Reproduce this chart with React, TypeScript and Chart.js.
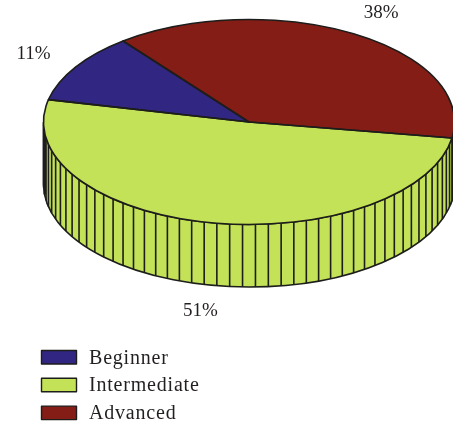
import React, { useEffect, useRef } from "react";
import { Chart, registerables } from "chart.js";

Chart.register(...registerables);

// Legend order
const categories = ["Beginner", "Intermediate", "Advanced"];
const shares = [11, 51, 38];
const colors = ["#312783", "#C3E257", "#841D16"];
// Clockwise order of the wedges around the disc, as indices into the lists above
const wedgeOrder = [0, 2, 1];

const OUTLINE = "#1d1d1b";
const TEXT = "#231f20";
const FONT = '"Liberation Serif", serif';

const RADIUS_X = 205.5;
const RADIUS_Y = 102.5;
const DEPTH = 62.5;
const LABEL_REACH = 1.25;
const LINE_WIDTH = 1.6;
const TAU = Math.PI * 2;

// Parts of a wedge that lie on the visible front wall (canvas angles 0..PI)
function visibleSpans(start: number, end: number): [number, number][] {
  const s = ((start % TAU) + TAU) % TAU;
  const e = s + (end - start);
  const spans: [number, number][] = [];
  for (const offset of [0, TAU]) {
    const a = Math.max(s, offset);
    const b = Math.min(e, offset + Math.PI);
    if (b > a) spans.push([a, b]);
  }
  return spans;
}

const discPlugin = {
  id: "disc3d",
  // Front wall, extruded below the rim, with one facet line per percentage point
  beforeDatasetsDraw(chart: any) {
    const { ctx } = chart;
    const arcs = chart.getDatasetMeta(0).data;
    ctx.save();
    ctx.strokeStyle = OUTLINE;
    ctx.lineWidth = LINE_WIDTH;
    arcs.forEach((arc: any, i: number) => {
      const cx = arc.x;
      const cy = arc.y;
      const value = chart.data.datasets[0].data[i];
      const step = (arc.endAngle - arc.startAngle) / value;
      for (const [a, b] of visibleSpans(arc.startAngle, arc.endAngle)) {
        ctx.beginPath();
        ctx.ellipse(cx, cy, RADIUS_X, RADIUS_Y, 0, a, b);
        ctx.ellipse(cx, cy + DEPTH, RADIUS_X, RADIUS_Y, 0, b, a, true);
        ctx.closePath();
        ctx.fillStyle = arc.options.backgroundColor;
        ctx.fill();
        ctx.stroke();
      }
      ctx.beginPath();
      for (let k = 1; k < value; k++) {
        const t = arc.startAngle + k * step;
        const n = ((t % TAU) + TAU) % TAU;
        if (n > Math.PI) continue;
        const x = cx + RADIUS_X * Math.cos(n);
        const y = cy + RADIUS_Y * Math.sin(n);
        ctx.moveTo(x, y);
        ctx.lineTo(x, y + DEPTH);
      }
      ctx.stroke();
    });
    ctx.restore();
  },
  // Flatten the round wedges into the tilted top face
  beforeDatasetDraw(chart: any) {
    const { ctx } = chart;
    const arc = chart.getDatasetMeta(0).data[0];
    ctx.save();
    ctx.translate(0, arc.y);
    ctx.scale(1, RADIUS_Y / RADIUS_X);
    ctx.translate(0, -arc.y);
  },
  afterDatasetDraw(chart: any) {
    chart.ctx.restore();
  },
  afterDatasetsDraw(chart: any) {
    const { ctx } = chart;
    const arcs = chart.getDatasetMeta(0).data;
    const dataset = chart.data.datasets[0];
    ctx.save();
    ctx.strokeStyle = OUTLINE;
    ctx.lineWidth = LINE_WIDTH;
    ctx.lineJoin = "round";

    // Rim and wedge edges
    arcs.forEach((arc: any) => {
      ctx.beginPath();
      ctx.moveTo(arc.x, arc.y);
      ctx.ellipse(arc.x, arc.y, RADIUS_X, RADIUS_Y, 0, arc.startAngle, arc.endAngle);
      ctx.closePath();
      ctx.stroke();
    });

    // Percentage labels outside the disc; the lower ones clear the wall as well
    ctx.fillStyle = TEXT;
    ctx.font = `19px ${FONT}`;
    ctx.textAlign = "center";
    ctx.textBaseline = "middle";
    arcs.forEach((arc: any, i: number) => {
      const mid = (arc.startAngle + arc.endAngle) / 2;
      const sin = Math.sin(mid);
      const x = arc.x + (sin > 0 ? -0.5 : 1.5) + LABEL_REACH * RADIUS_X * Math.cos(mid);
      const y = arc.y + 1 + LABEL_REACH * RADIUS_Y * sin + (sin > 0 ? DEPTH : 0);
      ctx.fillText(`${dataset.data[i]}%`, x, y);
    });

    // Legend, stacked in the lower left corner
    ctx.font = `20px ${FONT}`;
    ctx.textAlign = "left";
    ctx.textBaseline = "alphabetic";
    (ctx as any).letterSpacing = "0.8px";
    ctx.lineWidth = 1.4;
    categories.forEach((name, i) => {
      const top = 350.5 + i * 27.8;
      ctx.fillStyle = colors[i];
      ctx.fillRect(41.5, top, 35, 13.5);
      ctx.strokeRect(41.5, top, 35, 13.5);
      ctx.fillStyle = TEXT;
      ctx.fillText(name, 89, top + 13);
    });
    ctx.restore();
  },
};

export default function App() {
  const canvasRef = useRef<HTMLCanvasElement>(null);

  useEffect(() => {
    document.body.style.margin = "0";
    const chart = new Chart(canvasRef.current!, {
      type: "doughnut",
      data: {
        labels: wedgeOrder.map((i) => categories[i]),
        datasets: [
          {
            data: wedgeOrder.map((i) => shares[i]),
            backgroundColor: wedgeOrder.map((i) => colors[i]),
            borderWidth: 0,
            radius: RADIUS_X,
            clip: false,
          } as any,
        ],
      },
      options: {
        responsive: false,
        animation: false,
        cutout: 0,
        rotation: 282.6,
        layout: { padding: { left: 45, right: 0, top: 0, bottom: 181 } },
        plugins: { legend: { display: false }, tooltip: { enabled: false } },
      },
      plugins: [discPlugin],
    });
    return () => chart.destroy();
  }, []);

  return <canvas ref={canvasRef} width={453} height={425} style={{ display: "block" }} />;
}
